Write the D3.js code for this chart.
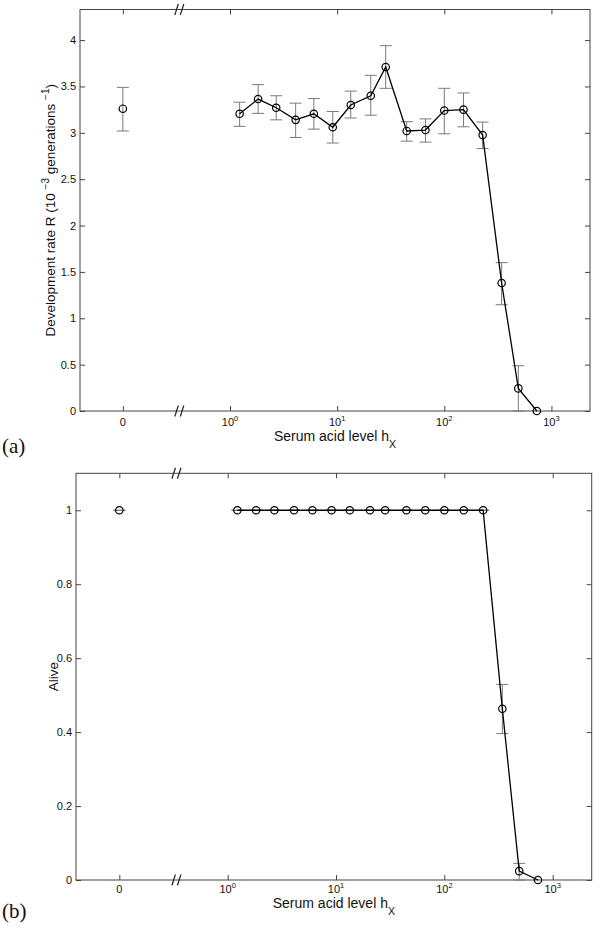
<!DOCTYPE html>
<html><head><meta charset="utf-8">
<script src="https://cdn.jsdelivr.net/npm/d3@7"></script>
<style>body{margin:0;background:#fff} svg{display:block}</style>
</head><body>
<svg id="c" width="600" height="930"></svg>
<script>
// ---------- data ----------
const zeroLevel = 0.1;      // where the "0" dose sits on the log axis
const breakAt = 0.34;       // axis break marker position
const xTickValues = [0.1, 1, 10, 100, 1000];
const xTickLabels = [["0", ""], ["10", "0"], ["10", "1"], ["10", "2"], ["10", "3"]];

const doses = [1.23, 1.83, 2.7, 4.1, 6.06, 9.1, 13.4, 20.6, 28.4, 44.6, 66.7, 100, 151, 228, 343, 491, 731];

// panel (a): development rate
const rateZero = [3.26, 3.02, 3.49];   // value, low, high at dose 0
const rate   = [3.205, 3.364, 3.27, 3.14, 3.205, 3.06, 3.30, 3.40, 3.71, 3.02, 3.03, 3.24, 3.25, 2.976, 1.38, 0.244, 0];
const rateLo = [3.07, 3.21, 3.14, 2.95, 3.04, 2.89, 3.16, 3.19, 3.48, 2.91, 2.90, 2.99, 3.065, 2.83, 1.146, 0, 0];
const rateHi = [3.33, 3.52, 3.40, 3.32, 3.37, 3.23, 3.45, 3.62, 3.94, 3.12, 3.15, 3.48, 3.43, 3.116, 1.60, 0.488, 0];
const rateTicks = [0, 0.5, 1, 1.5, 2, 2.5, 3, 3.5, 4];

// panel (b): alive fraction
const aliveZero = [1, 1, 1];
const alive   = [1, 1, 1, 1, 1, 1, 1, 1, 1, 1, 1, 1, 1, 1, 0.463, 0.024, 0];
const aliveLo = [1, 1, 1, 1, 1, 1, 1, 1, 1, 1, 1, 1, 1, 1, 0.396, 0, 0];
const aliveHi = [1, 1, 1, 1, 1, 1, 1, 1, 1, 1, 1, 1, 1, 1, 0.529, 0.045, 0];
const aliveTicks = [0, 0.2, 0.4, 0.6, 0.8, 1];

// ---------- drawing ----------
const svg = d3.select("#c");
const FONT = "'Liberation Sans', Arial, Helvetica, sans-serif";
const AX = "#444";

function panel(o) {
  const g = svg.append("g");
  const x = d3.scaleLog().domain([Math.pow(10, -1.4), Math.pow(10, 3.36)]).range([o.left, o.right]);
  const y = d3.scaleLinear().domain([0, o.yMax]).range([o.bottom, o.top]);

  const styleAxis = sel => {
    sel.select(".domain").remove();
    sel.selectAll("line").attr("stroke", AX);
    sel.selectAll("text").attr("font-family", FONT).attr("font-size", 11).attr("fill", "#111");
  };
  g.append("g").attr("transform", `translate(0,${o.bottom})`)
    .call(d3.axisBottom(x).tickValues(xTickValues).tickSizeInner(-5).tickSizeOuter(0).tickFormat(""))
    .call(styleAxis);
  g.append("g").attr("transform", `translate(0,${o.top})`)
    .call(d3.axisTop(x).tickValues(xTickValues).tickSizeInner(-5).tickSizeOuter(0).tickFormat(""))
    .call(styleAxis);
  g.append("g").attr("transform", `translate(${o.left},0)`)
    .call(d3.axisLeft(y).tickValues(o.yTicks).tickSizeInner(-5).tickSizeOuter(0).tickPadding(4).tickFormat(d => String(d)))
    .call(styleAxis);
  g.append("g").attr("transform", `translate(${o.right},0)`)
    .call(d3.axisRight(y).tickValues(o.yTicks).tickSizeInner(-5).tickSizeOuter(0).tickFormat(""))
    .call(styleAxis);

  g.append("rect").attr("x", o.left).attr("y", o.top)
    .attr("width", o.right - o.left).attr("height", o.bottom - o.top)
    .attr("fill", "none").attr("stroke", AX).attr("stroke-width", 1);

  xTickValues.forEach((v, i) => {
    const t = g.append("text").attr("x", x(v)).attr("y", o.bottom + o.tickDy)
      .attr("text-anchor", "middle").attr("font-family", FONT).attr("font-size", 11).attr("fill", "#111");
    t.append("tspan").text(xTickLabels[i][0]);
    if (xTickLabels[i][1]) t.append("tspan").attr("dy", -5).attr("font-size", 7.5).text(xTickLabels[i][1]);
  });

  [o.top, o.bottom].forEach(yy => {
    const bx = x(breakAt);
    [0, 5.5].forEach(off => {
      g.append("line")
        .attr("x1", bx - 5 + off).attr("y1", yy + 5.5)
        .attr("x2", bx - 1.5 + off).attr("y2", yy - 5.5)
        .attr("stroke", "#222").attr("stroke-width", 1.2);
    });
  });

  const xl = g.append("text").attr("x", (o.left + o.right) / 2).attr("y", o.bottom + o.labelDy)
    .attr("text-anchor", "middle").attr("font-family", FONT).attr("font-size", 14).attr("fill", "#111");
  xl.append("tspan").text("Serum acid level h");
  xl.append("tspan").attr("dy", 7).attr("font-size", 10.5).text("X");

  const yl = g.append("text")
    .attr("transform", `translate(${o.ylabelX},${(o.top + o.bottom) / 2}) rotate(-90)`)
    .attr("text-anchor", "middle").attr("font-family", FONT).attr("font-size", 13.5).attr("fill", "#111");
  o.ylabel.forEach(p => {
    const ts = yl.append("tspan").text(p.t);
    if (p.dy) ts.attr("dy", p.dy);
    if (p.fs) ts.attr("font-size", p.fs);
  });

  g.append("text").attr("x", 2).attr("y", o.tagY)
    .attr("font-family", "'Liberation Serif', 'DejaVu Serif', serif").attr("font-size", 21).attr("fill", "#111")
    .text(o.tag);

  const pts = [{x: zeroLevel, v: o.zero[0], lo: o.zero[1], hi: o.zero[2]}]
    .concat(doses.map((d, i) => ({x: d, v: o.vals[i], lo: o.lo[i], hi: o.hi[i]})));
  const eb = g.append("g").attr("stroke", "#7a7a7a").attr("stroke-width", 1).attr("fill", "none");
  pts.forEach(p => {
    if (p.lo === p.hi && p.v === 0) return;
    const cx = x(p.x);
    eb.append("line").attr("x1", cx).attr("x2", cx).attr("y1", y(p.lo)).attr("y2", y(p.hi));
    eb.append("line").attr("x1", cx - 6).attr("x2", cx + 6).attr("y1", y(p.lo)).attr("y2", y(p.lo));
    eb.append("line").attr("x1", cx - 6).attr("x2", cx + 6).attr("y1", y(p.hi)).attr("y2", y(p.hi));
  });

  g.append("path").datum(pts.slice(1))
    .attr("d", d3.line().x(p => x(p.x)).y(p => y(p.v)))
    .attr("fill", "none").attr("stroke", "#000").attr("stroke-width", 1.3);

  g.selectAll("circle.m").data(pts).enter().append("circle").attr("class", "m")
    .attr("cx", p => x(p.x)).attr("cy", p => y(p.v)).attr("r", 3.7)
    .attr("fill", "none").attr("stroke", "#000").attr("stroke-width", 1.2);
}

panel({
  left: 80, right: 590, top: 9.5, bottom: 411, yMax: 4.33, yTicks: rateTicks,
  zero: rateZero, vals: rate, lo: rateLo, hi: rateHi,
  tickDy: 15, labelDy: 30, ylabelX: 55, tag: "(a)", tagY: 453,
  ylabel: [
    {t: "Development rate R (10 "},
    {t: "\u22123", dy: -6, fs: 10},
    {t: " generations ", dy: 6},
    {t: "\u22121", dy: -6, fs: 10},
    {t: ")", dy: 6}
  ]
});

panel({
  left: 76, right: 591.7, top: 473.3, bottom: 880, yMax: 1.1, yTicks: aliveTicks,
  zero: aliveZero, vals: alive, lo: aliveLo, hi: aliveHi,
  tickDy: 13, labelDy: 28, ylabelX: 58, tag: "(b)", tagY: 918,
  ylabel: [{t: "Alive"}]
});
</script>
</body></html>
